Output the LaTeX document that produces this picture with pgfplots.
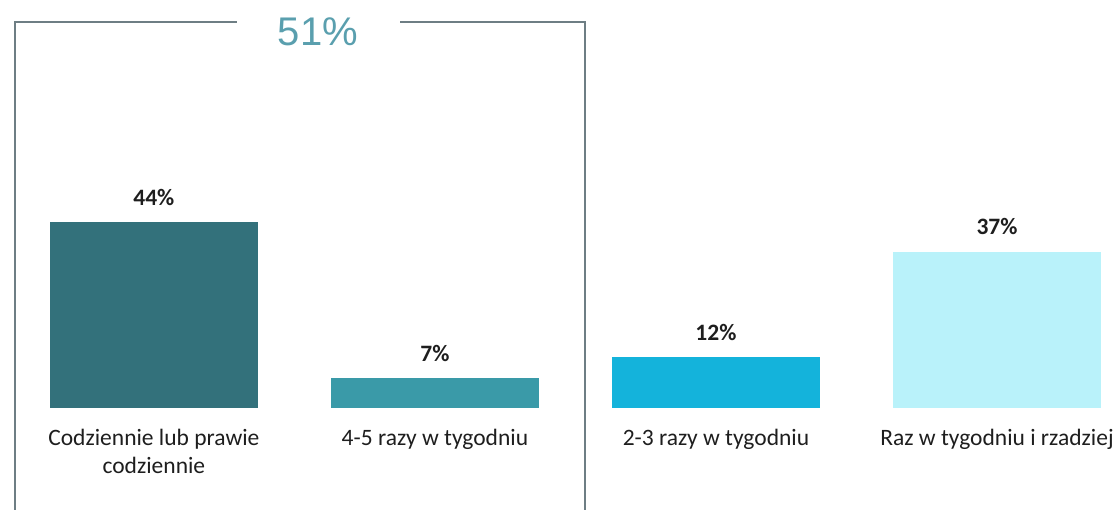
\documentclass[border=0pt]{standalone}
\usepackage{pgfplots}
\pgfplotsset{compat=1.18}
\usepackage{fontspec}
\setmainfont{Carlito}
\newfontfamily\arialfont{Liberation Sans}
\definecolor{cA}{HTML}{33717B}
\definecolor{cB}{HTML}{3A9AA8}
\definecolor{cC}{HTML}{14B3DB}
\definecolor{cD}{HTML}{B9F2FA}
\definecolor{frameg}{HTML}{6E7E84}
\definecolor{bigtxt}{HTML}{5A9FAE}
\definecolor{txt}{HTML}{1E1E1E}
\begin{document}
\begin{tikzpicture}[x=1pt,y=1pt]
\begin{axis}[
  at={(10pt,102pt)}, anchor=south west,
  scale only axis, width=1100pt, height=388pt,
  xmin=-0.512, xmax=3.402, ymin=0, ymax=91.8,
  axis line style={draw=none}, tick style={draw=none},
  ytick=\empty,
  xtick={0,1,2,3},
  xticklabels={{Codziennie lub prawie\\codziennie},{4-5 razy w tygodniu},{2-3 razy w tygodniu},{Raz w tygodniu i rzadziej}},
  xticklabel style={align=center, font=\fontsize{23.5}{28}\selectfont, text=txt, yshift=-13pt},
  ybar, bar width=208pt, bar shift=0pt,
  nodes near coords={\pgfmathprintnumber[assume math mode=true]{\pgfplotspointmeta}\%},
  every node near coord/.append style={font=\bfseries\fontsize{23.5}{28}\selectfont, text=txt, yshift=13pt},
  clip=false,
]
\addplot[fill=cA, draw=none] coordinates {(0,44)};
\addplot[fill=cB, draw=none] coordinates {(1,7)};
\addplot[fill=cC, draw=none] coordinates {(2,12)};
\addplot[fill=cD, draw=none] coordinates {(3,37)};
\end{axis}
\draw[frameg, line width=2pt] (15,0) -- (15,488) -- (237,488);
\draw[frameg, line width=2pt] (400,488) -- (585,488) -- (585,0);
\node[text=bigtxt, font=\arialfont\fontsize{40}{44}\selectfont] at (318,478) {51\%};
\pgfresetboundingbox
\useasboundingbox (0,0) rectangle (1117,510);
\end{tikzpicture}
\end{document}
